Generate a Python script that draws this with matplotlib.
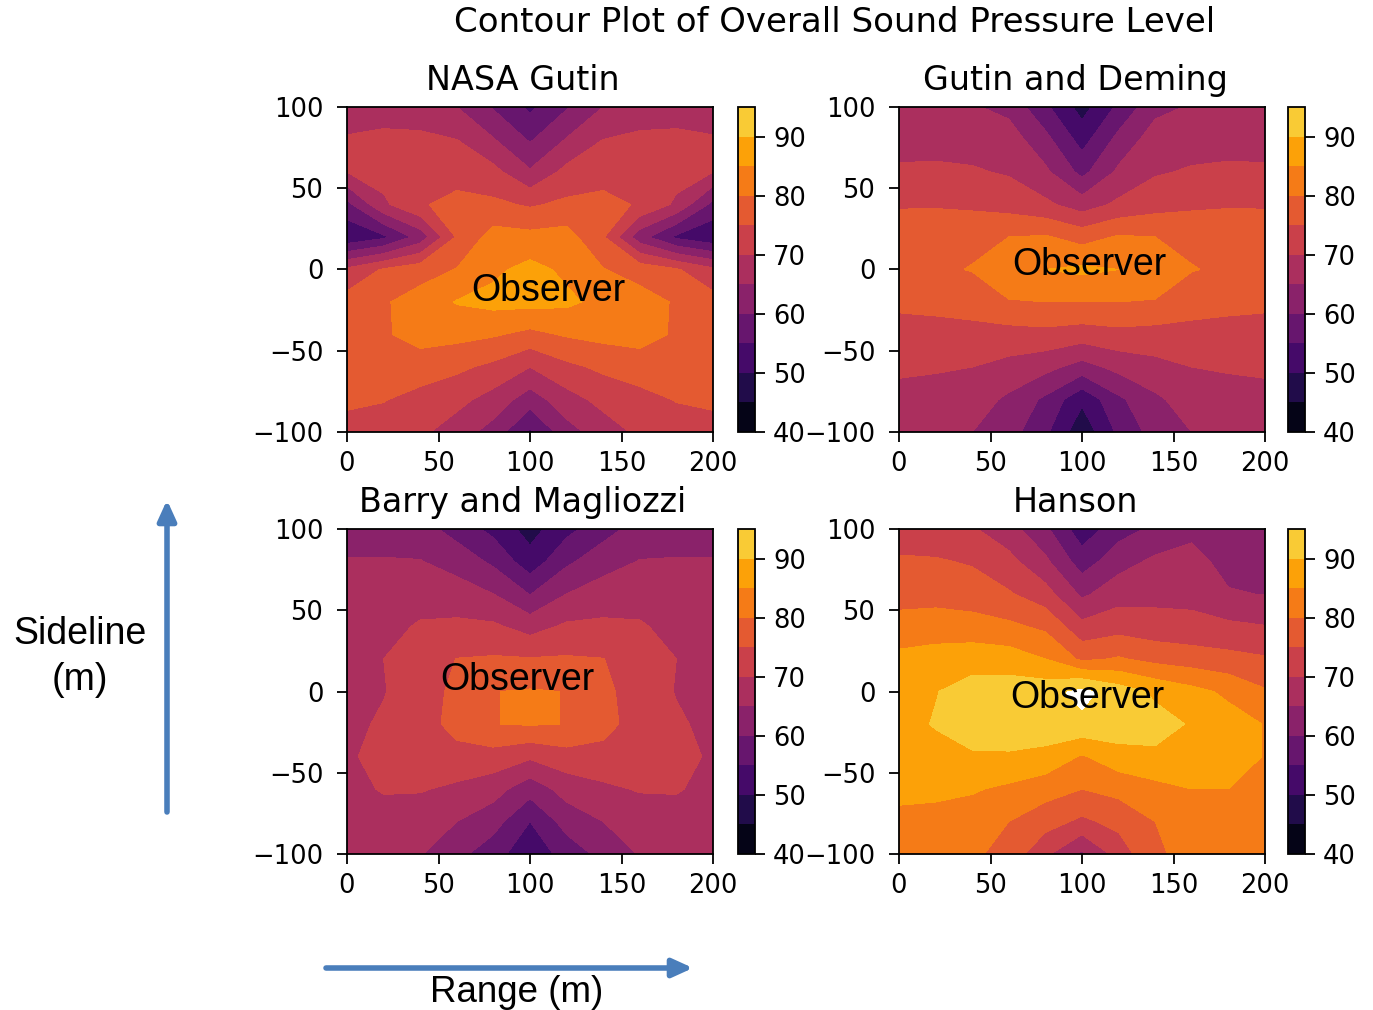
import numpy as np
import matplotlib
matplotlib.use("Agg")
import matplotlib.pyplot as plt

# ---------------- data (OASPL, dB) ----------------
range_m = [0, 20, 40, 60, 80, 100, 120, 140, 160, 180, 200]
sideline_m = [100, 80, 60, 40, 20, 0, -20, -40, -60, -80, -100]

nasa_gutin = [
    [67, 67, 66, 65, 59.5, 54, 59.5, 65, 66, 67, 67],
    [70.5, 71.5, 71.5, 70, 65.3, 59.4, 65.3, 70, 71.5, 71.5, 70.5],
    [70, 72, 73, 73, 71.5, 65.6, 71.5, 73, 73, 72, 70],
    [58.5, 69, 74.5, 76.5, 76, 74.4, 76, 76.5, 74.5, 69, 58.5],
    [51, 54, 62, 75.5, 82, 81.5, 82, 75.5, 62, 54, 51],
    [71, 75.5, 78, 80.2, 84, 86.5, 84, 80.2, 78, 75.5, 71],
    [77, 79.5, 82, 85.3, 86.5, 86.5, 86, 83.5, 82, 79.5, 77],
    [78, 79.5, 81.5, 81.5, 80.5, 78.6, 80.5, 81.5, 81.5, 79.5, 78],
    [77, 77.5, 78, 76, 73.8, 70, 73.8, 76, 78, 77.5, 77],
    [76, 75.3, 73, 71.5, 68, 62.5, 68, 71.5, 73, 75.3, 76],
    [73, 72, 71, 67.5, 63, 54, 63, 67.5, 71, 72, 73],
]

gutin_deming = [
    [66.5, 66, 65.5, 63.5, 56, 48, 56, 63.5, 65.5, 66, 66.5],
    [68, 68, 68, 67.5, 61.5, 53, 61.5, 67.5, 68, 68, 68],
    [70.8, 71, 70.5, 69.5, 66, 58.5, 66, 69.5, 70.5, 71, 70.8],
    [74.5, 74.5, 74, 73, 71, 67.5, 71, 73, 74, 74.5, 74.5],
    [78, 78.5, 79, 80, 80.5, 78, 80.5, 80, 79, 78.5, 78],
    [78.5, 79.3, 80.2, 83, 85, 86, 85, 83, 80.2, 79.3, 78.5],
    [76, 76.5, 77.5, 79.7, 80, 80, 80, 79.7, 77.5, 76.5, 76],
    [73, 73, 73, 73, 73.5, 72.5, 73.5, 73, 73, 73, 73],
    [70.8, 70.5, 70, 68.5, 66.5, 63, 66.5, 68.5, 70, 70.5, 70.8],
    [68.5, 68, 67.5, 64, 59, 51, 59, 64, 67.5, 68, 68.5],
    [66.5, 66, 65, 62, 56, 46.5, 56, 62, 65, 66, 66.5],
]

barry_magliozzi = [
    [63, 63, 62, 58, 53.5, 48, 53.5, 58, 62, 63, 63],
    [65.3, 65.3, 65.2, 63, 59, 52, 59, 63, 65.2, 65.3, 65.3],
    [66.5, 67, 68, 67.3, 65, 59.8, 65, 67.3, 68, 67, 66.5],
    [67, 68.5, 70.5, 71, 70.8, 68, 70.8, 71, 70.5, 68.5, 67],
    [67, 70, 72, 75.1, 75.5, 75.3, 75.5, 75.1, 72, 70, 67],
    [67.5, 69.7, 73, 76, 79.9, 80.4, 79.9, 76, 73, 69.7, 67.5],
    [68.5, 70.8, 73, 76.5, 79.9, 80.4, 79.9, 76.5, 73, 70.8, 68.5],
    [69.2, 71.8, 72.5, 73.5, 73, 70.8, 73, 73.5, 72.5, 71.8, 69.2],
    [68.5, 70.4, 70.4, 69, 67, 62, 67, 69, 70.4, 70.4, 68.5],
    [67, 68, 67, 65, 62, 55, 62, 65, 67, 68, 67],
    [66, 66, 65.3, 61.5, 57, 51.5, 57, 61.5, 65.3, 66, 66],
]

hanson = [
    [71, 71.5, 70.5, 67, 61, 52, 58, 61, 63.5, 62, 61.5],
    [76, 75.5, 74.5, 71.5, 66, 57.5, 63, 66, 67, 63, 62.5],
    [78.5, 78.5, 77.5, 75.5, 72, 64, 68, 68.5, 68.5, 65.5, 64.8],
    [81.5, 82, 82, 81, 79, 71.5, 73, 72, 71.5, 71, 70.2],
    [86.5, 87.5, 88, 87.5, 85, 79, 80.5, 78.5, 77.5, 76.5, 75.5],
    [88, 89.8, 92, 92.5, 93, 97, 92.5, 89, 86.5, 84, 80.5],
    [88.5, 90.3, 92, 92.5, 93, 93.8, 93, 92, 89.5, 87, 84.8],
    [88, 88.5, 89.5, 89.5, 88.5, 84.5, 88, 89, 88.5, 87, 84.8],
    [86, 86, 85.5, 84, 82, 80, 81.5, 83.5, 85, 85, 84],
    [84, 83.5, 82.5, 80, 77, 74, 76.5, 80, 82, 83, 83],
    [82, 81.5, 81, 78, 71, 64, 72, 79.5, 81, 81.5, 82],
]

titles = ["NASA Gutin", "Gutin and Deming", "Barry and Magliozzi", "Hanson"]
datasets = [nasa_gutin, gutin_deming, barry_magliozzi, hanson]
levels = np.arange(40, 100, 5)
cbar_ticks = [40, 50, 60, 70, 80, 90]
x_ticks = [0, 50, 100, 150, 200]
y_ticks = [-100, -50, 0, 50, 100]

# ---------------- layout (pixels) ----------------
W, H = 1373, 1010
fig = plt.figure(figsize=(W / 100, H / 100), dpi=100)


def rect(left, top, w, h):
    return [left / W, 1 - (top + h) / H, w / W, h / H]


ax_left = [347, 899, 347, 899]
ax_top = [107, 107, 529, 529]
cb_left = [738, 1288, 738, 1288]
obs_pos = [(548, 291), (1089, 265), (517, 680), (1087, 698)]
AXW, AXH = 366, 325

# background overlay for annotations
bg = fig.add_axes([0, 0, 1, 1], zorder=0)
bg.set_xlim(0, W)
bg.set_ylim(H, 0)
bg.axis("off")

lw = 1.3
tsize = 18.5
for i in range(4):
    ax = fig.add_axes(rect(ax_left[i], ax_top[i], AXW, AXH), zorder=1)
    cs = ax.contourf(range_m, sideline_m, np.array(datasets[i]), levels=levels,
                     cmap="inferno", vmin=40, vmax=100)
    ax.set_xlim(0, 200)
    ax.set_ylim(-100, 100)
    ax.set_xticks(x_ticks)
    ax.set_yticks(y_ticks)
    ax.tick_params(labelsize=tsize, length=7, width=lw, colors="black")
    ax.tick_params(axis="x", pad=7)
    ax.tick_params(axis="y", pad=10)
    for s in ax.spines.values():
        s.set_linewidth(lw)
    ax.set_title(titles[i], fontsize=24, pad=12, x=0.481)

    cax = fig.add_axes(rect(cb_left[i], ax_top[i], 17, AXH), zorder=1)
    cb = fig.colorbar(cs, cax=cax)
    cb.set_ticks(cbar_ticks)
    cax.tick_params(labelsize=tsize, length=7, width=lw, pad=6)
    cb.outline.set_linewidth(lw)

    fig.text(obs_pos[i][0] / W, 1 - obs_pos[i][1] / H, "Observer", fontsize=27,
             family="Liberation Sans", ha="center", va="center", zorder=5)

fig.text(835 / W, 1 - 22 / H, "Contour Plot of Overall Sound Pressure Level",
         fontsize=24.5, ha="center", va="center")

# axis annotations
fig.text(80 / W, 1 - 634 / H, "Sideline", fontsize=27, family="Liberation Sans",
         ha="center", va="center")
fig.text(80 / W, 1 - 680 / H, "(m)", fontsize=27, family="Liberation Sans",
         ha="center", va="center")
fig.text(517 / W, 1 - 992 / H, "Range (m)", fontsize=26.5, family="Liberation Sans",
         ha="center", va="center")

arrow_color = "#4a7ebb"
astyle = "-|>,head_length=0.55,head_width=0.25"
bg.annotate("", xy=(167, 500), xytext=(167, 812),
            arrowprops=dict(arrowstyle=astyle, color=arrow_color, lw=4,
                            shrinkA=0, shrinkB=0, mutation_scale=22))
bg.annotate("", xy=(693, 968), xytext=(326, 968),
            arrowprops=dict(arrowstyle=astyle, color=arrow_color, lw=4,
                            shrinkA=0, shrinkB=0, mutation_scale=22))

fig.savefig("out.png", dpi=100)
